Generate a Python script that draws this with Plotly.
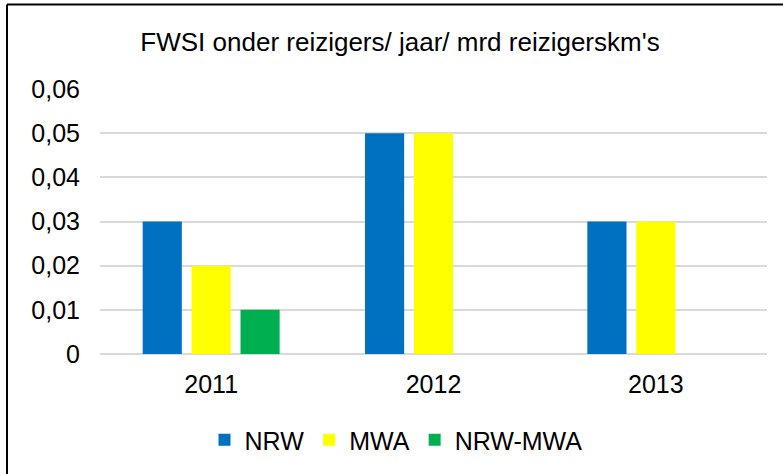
import plotly.graph_objects as go

categories = ["2011", "2012", "2013"]
nrw = [0.03, 0.05, 0.03]
mwa = [0.02, 0.05, 0.03]
nrw_mwa = [0.01, None, None]
series_names = ["NRW", "MWA", "NRW-MWA"]
colors = ["#0070C0", "#FFFF00", "#00B050"]
tick_vals = [0, 0.01, 0.02, 0.03, 0.04, 0.05, 0.06]
tick_text = ["0", "0,01", "0,02", "0,03", "0,04", "0,05", "0,06"]
title = "FWSI onder reizigers/ jaar/ mrd reizigerskm's"

W, H = 783, 474
ML, MR, MT, MB = 100, 16, 89, 120
PW = W - ML - MR
PH = H - MT - MB
FONT = "Liberation Sans, Arial, sans-serif"

fig = go.Figure()
for name, vals, col in zip(series_names, [nrw, mwa, nrw_mwa], colors):
    fig.add_trace(go.Bar(x=categories, y=vals, name=name,
                         marker=dict(color=col, line=dict(width=0))))

fig.update_layout(
    width=W, height=H,
    margin=dict(l=ML, r=MR, t=MT, b=MB, autoexpand=False),
    barmode="group", bargap=0.34, bargroupgap=0.2,
    separators=",.",
    paper_bgcolor="white", plot_bgcolor="white",
    font=dict(family=FONT, size=25, color="black"),
    title=dict(text=title, x=400 / W, xref="container", xanchor="center",
               y=1 - 42 / H, yref="container", yanchor="middle",
               font=dict(size=26, color="black", family=FONT)),
    xaxis=dict(showgrid=False, showline=False, ticks="", ticklabelstandoff=13,
               tickfont=dict(size=25)),
    yaxis=dict(range=[0, 0.06], tickvals=tick_vals, ticktext=tick_text, showgrid=True,
               gridcolor="#D9D9D9", gridwidth=1.5, zeroline=True, zerolinecolor="#D9D9D9",
               zerolinewidth=1.5, showline=False, ticks="", ticklabelstandoff=19,
               tickfont=dict(size=25)),
    legend=dict(orientation="h", x=396 / W, xanchor="center", xref="container",
                y=1 - 440 / H, yref="container", yanchor="middle",
                font=dict(size=25), traceorder="normal"),
    showlegend=True,
)

# chart border (left & top edges visible in the frame)
bx = (7 - ML) / PW
by = (MT + PH - 4.5) / PH
fig.add_shape(type="line", xref="paper", yref="paper",
              x0=bx, x1=bx, y0=by, y1=(MT + PH - 480) / PH,
              line=dict(color="black", width=2))
fig.add_shape(type="line", xref="paper", yref="paper",
              x0=bx, x1=(790 - ML) / PW, y0=by, y1=by,
              line=dict(color="black", width=2))

fig.write_html("out.html", config={"displayModeBar": False},
               post_script="document.body.style.margin='0';document.body.style.overflow='hidden';")
